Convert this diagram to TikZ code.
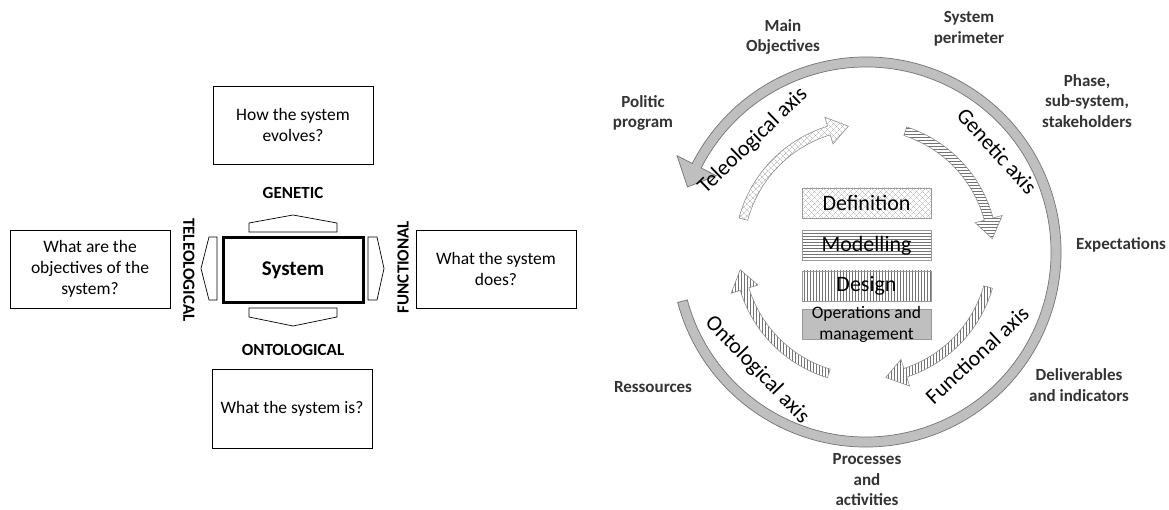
\documentclass[tikz,border=0pt]{standalone}
\usepackage{fontspec}
\setmainfont{Carlito}
\usetikzlibrary{patterns,patterns.meta}

\tikzset{
  question/.style={draw, line width=0.8pt, minimum width=160pt, minimum height=78pt, align=center, font=\fontsize{17.5}{21}\selectfont},
  dimension/.style={font=\bfseries\fontsize{17}{20}\selectfont},
  blockarrow/.style={draw, line width=0.7pt, fill=white},
  aspect/.style={align=center, text=black!80, font=\bfseries\fontsize{17}{20.5}\selectfont},
  stage/.style={draw=gray!80, line width=0.8pt, minimum width=129pt, minimum height=30pt, inner sep=0pt, font=\fontsize{22}{24}\selectfont},
  axisname/.style={font=\fontsize{22}{24}\selectfont},
  ringarrow/.style={draw=gray!90!black, fill=gray!50, line width=0.7pt},
  cyclearrow/.style={draw=gray!90, line width=0.6pt, pattern color=gray!90!black},
  diamonds/.style={pattern={Lines[angle=45, distance=4pt, line width=0.45pt]}, pattern color=gray!65,
    postaction={pattern={Lines[angle=-45, distance=4pt, line width=0.45pt]}, pattern color=gray!65}},
}

\begin{document}
\begin{tikzpicture}[x=1pt, y=-1pt]
    	\path[fill=white] (0,0) rectangle (1169,510);
    	\useasboundingbox (0,0) rectangle (1169,510);
    	% Questions round the system:
    	\node[question] (evolves) at (293,125) {How the system\\evolves?};
    	\node[question] (objectives) at (90,269) {What are the\\objectives of the\\system?};
    	\node[question] (does) at (496,269) {What the system\\does?};
    	\node[question, minimum height=79pt] (is) at (292,408.5) {What the system is?};
    	\node[draw, line width=3pt, minimum width=140pt, minimum height=65pt, font=\bfseries\fontsize{21}{24}\selectfont] (system) at (293,270.5) {System};
    	% Block arrows and names of the axes:
    	\draw[blockarrow] (249,232) -- (249,223) -- (293,215) -- (337,223) -- (337,232) -- cycle;
    	\draw[blockarrow] (249,308) -- (337,308) -- (337,317) -- (293,326) -- (249,317) -- cycle;
    	\draw[blockarrow] (217,237) -- (217,300) -- (209,300) -- (201,268.5) -- (209,237) -- cycle;
    	\draw[blockarrow] (368,237) -- (377,237) -- (384,268.5) -- (377,300) -- (368,300) -- cycle;
    	\node[dimension] (genetic) at (293,193) {GENETIC};
    	\node[dimension] (ontological) at (293,350) {ONTOLOGICAL};
    	\node[dimension, rotate=-90] (teleological) at (189,270) {TELEOLOGICAL};
    	\node[dimension, rotate=90] (functional) at (403,267) {FUNCTIONAL};
    	% The cycle: outer ring and the four axes
    	\begin{scope}[shift={(866,252)}, y=1pt]
    		\draw[ringarrow] (-165:195) arc[start angle=-165, end angle=153, radius=195] -- (153:212) -- (160:190) -- (153:168) -- (153:185) arc[start angle=153, end angle=-165, radius=185] -- cycle;
    		\draw[cyclearrow, diamonds] (165:131.5) arc[start angle=165, end angle=107, radius=131.5] -- (107:141) -- (98:127) -- (107:113) -- (107:122.5) arc[start angle=107, end angle=165, radius=122.5] -- cycle;
    		\draw[cyclearrow, pattern=horizontal lines] (72:131.5) arc[start angle=72, end angle=15, radius=131.5] -- (15:141) -- (6:127) -- (15:113) -- (15:122.5) arc[start angle=15, end angle=72, radius=122.5] -- cycle;
    		\draw[cyclearrow, pattern=vertical lines] (-16:131.5) arc[start angle=-16, end angle=-72, radius=131.5] -- (-72:141) -- (-81:127) -- (-72:113) -- (-72:122.5) arc[start angle=-72, end angle=-16, radius=122.5] -- cycle;
    		\draw[cyclearrow, pattern=vertical lines] (-107:131.5) arc[start angle=-107, end angle=-163, radius=131.5] -- (-163:141) -- (-172:127) -- (-163:113) -- (-163:122.5) arc[start angle=-163, end angle=-107, radius=122.5] -- cycle;
    	\end{scope}
    	\node[axisname, rotate=44] (telaxis) at (753,141) {Teleological axis};
    	\node[axisname, rotate=-48] (genaxis) at (997,151) {Genetic axis};
    	\node[axisname, rotate=43] (funaxis) at (977,355) {Functional axis};
    	\node[axisname, rotate=-46] (ontaxis) at (757,370) {Ontological axis};
    	% Stages in the middle:
    	\node[stage, diamonds] (definition) at (866.5,203) {Definition};
    	\node[stage, pattern=horizontal lines, pattern color=gray!90!black] (modelling) at (866.5,245.5) {Modelling};
    	\node[stage, pattern=vertical lines, pattern color=gray!90!black] (design) at (866.5,286) {Design};
    	\node[stage, fill=gray!50] (operations) at (866.5,324) {};
    	\node[align=center, font=\fontsize{17.5}{21}\selectfont] (opstext) at (operations) {Operations and\\management};
    	% What each axis looks at:
    	\node[aspect] (mainobj) at (783,37) {Main\\Objectives};
    	\node[aspect] (perimeter) at (969,29) {System\\perimeter};
    	\node[aspect] (phase) at (1087,101) {Phase,\\sub-system,\\stakeholders};
    	\node[aspect] (politic) at (643,113) {Politic\\program};
    	\node[aspect] (expect) at (1121,245) {Expectations};
    	\node[aspect] (deliver) at (1079,385) {Deliverables\\and indicators};
    	\node[aspect] (ressources) at (653,387) {Ressources};
    	\node[aspect] (processes) at (867,480) {Processes\\and\\activities};
\end{tikzpicture}
\end{document}
